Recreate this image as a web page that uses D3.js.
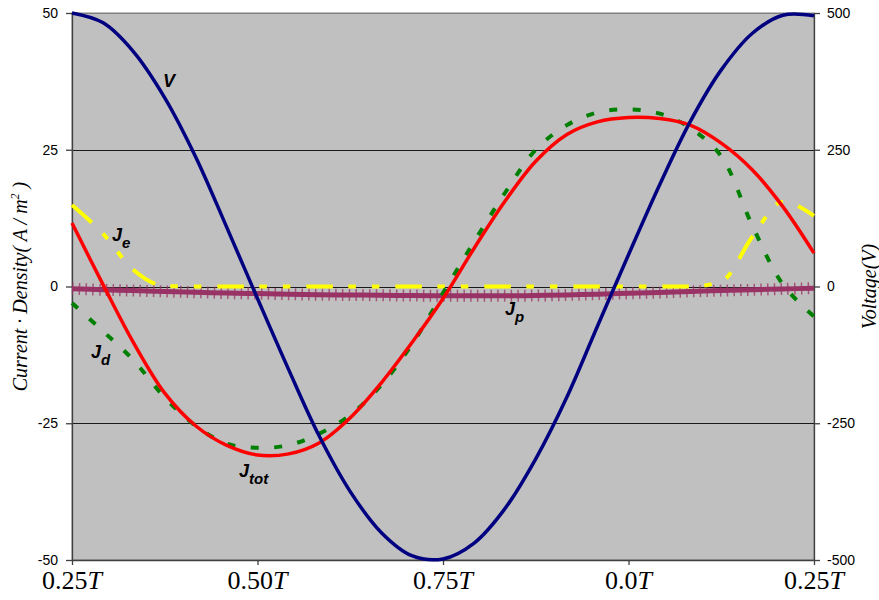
<!DOCTYPE html>
<html>
<head>
<meta charset="utf-8">
<script src="https://cdn.jsdelivr.net/npm/d3@7"></script>
<style>
    body { margin: 0; background: #ffffff; }
    .tickLabel { font-family: "Liberation Sans", Arial, sans-serif; font-size: 14px; fill: #000; }
    .axisTitle { font-family: "Liberation Serif", "Times New Roman", serif; font-style: italic; font-size: 20px; fill: #000; }
    .phaseLabel { font-family: "Liberation Serif", "Times New Roman", serif; font-size: 26px; fill: #000; }
    .seriesLabel { font-family: "Liberation Sans", Arial, sans-serif; font-style: italic; font-weight: bold; font-size: 18px; fill: #000; }
</style>
</head>
<body>
<svg id="chart" width="879" height="600"></svg>
<script>
// phase along the cycle (in units of T, 0.25T .. 1.25T)
const phase = [0.25, 0.292, 0.333, 0.375, 0.417, 0.458, 0.5, 0.542, 0.583, 0.625, 0.667, 0.708,
    0.75, 0.792, 0.833, 0.875, 0.917, 0.958, 1.0, 1.042, 1.083, 1.125, 1.167, 1.208, 1.25];

// applied voltage (V), right axis
const voltage = [500, 482, 429, 345, 236, 110, -22, -152, -273, -375, -450, -492,
    -498, -469, -407, -315, -202, -73, 58, 186, 301, 396, 463, 496, 495];

// current densities (A/m2), left axis
const jTot = [11.6, 0.3, -10.3, -19.5, -25.5, -29.0, -30.8, -30.6, -28.6, -24.0, -17.6, -10.3,
    -2.2, 7.0, 15.5, 22.9, 27.8, 30.1, 30.9, 30.7, 29.5, 26.2, 21.3, 14.6, 6.1];
const jD = [-3.0, -8.2, -13.5, -20.3, -25.5, -28.7, -29.5, -29.0, -26.9, -23.5, -18.0, -10.6,
    -1.2, 8.2, 17.0, 25.0, 29.5, 31.8, 32.4, 31.6, 29.0, 23.8, 11.1, 0.4, -5.5];
const jE = [14.9, 9.6, 3.0, 0.1, 0, 0, 0, 0, 0, 0, 0, 0,
    0, 0, 0, 0, 0, 0, 0, 0, 0, 0.9, 9.1, 15.5, 12.9];
const jP = [-0.4, -0.6, -0.75, -0.9, -1.05, -1.2, -1.3, -1.4, -1.5, -1.55, -1.6, -1.65,
    -1.7, -1.7, -1.7, -1.65, -1.55, -1.4, -1.25, -1.1, -0.9, -0.75, -0.6, -0.45, -0.3];

const leftTicks = [-50, -25, 0, 25, 50];
const rightTicks = [-500, -250, 0, 250, 500];
const phaseTicks = [0.25, 0.5, 0.75, 1.0, 1.25];
const phaseTickLabels = ["0.25", "0.50", "0.75", "0.0", "0.25"];

// series name, subscript, anchor point in (phase, current density)
const seriesNames = ["V", "J", "J", "J", "J"];
const seriesSubs = ["", "e", "d", "p", "tot"];
const labelPhase = [0.3726, 0.3039, 0.2756, 0.8336, 0.4751];
const labelValue = [36.5, 8.3, -13.1, -5.2, -34.8];

const plot = { left: 72, right: 814, top: 13, bottom: 560 };

const svg = d3.select("#chart");

const x = d3.scaleLinear().domain([0.25, 1.25]).range([plot.left, plot.right]);
const yLeft = d3.scaleLinear().domain([-50, 50]).range([plot.bottom, plot.top]);
const yRight = d3.scaleLinear().domain([-500, 500]).range([plot.bottom, plot.top]);

drawBackground();
drawAxes();
drawSeries();
drawLabels();

function drawBackground() {
    svg.append("rect")
        .attr("x", plot.left)
        .attr("y", plot.top)
        .attr("width", plot.right - plot.left)
        .attr("height", plot.bottom - plot.top)
        .attr("fill", "#c0c0c0")
        .attr("stroke", "#808080");

    //horizontal gridlines on the major ticks
    svg.append("g")
        .selectAll("line")
        .data(leftTicks)
        .join("line")
        .attr("x1", plot.left)
        .attr("x2", plot.right)
        .attr("y1", d => Math.round(yLeft(d)) + 0.5)
        .attr("y2", d => Math.round(yLeft(d)) + 0.5)
        .attr("stroke", d => (d == 50 ? "#808080" : "#1a1a1a"))
        .attr("stroke-width", 1);
}

function styleAxis(g) {
    g.select(".domain").attr("stroke", "#404040").attr("stroke-width", 1.3);
    g.selectAll(".tick line").attr("stroke", "#404040").attr("stroke-width", 1.3);
    g.selectAll(".tick text").attr("class", "tickLabel");
}

function drawAxes() {
    svg.append("g")
        .attr("transform", `translate(${plot.left},0)`)
        .call(d3.axisLeft(yLeft).tickValues(leftTicks).tickSize(6).tickSizeOuter(0)
            .tickPadding(8).tickFormat(d => String(d)))
        .call(styleAxis);

    svg.append("g")
        .attr("transform", `translate(${plot.right},0)`)
        .call(d3.axisRight(yRight).tickValues(rightTicks).tickSize(6).tickSizeOuter(0)
            .tickPadding(7).tickFormat(d => String(d)))
        .call(styleAxis);

    svg.append("g")
        .attr("transform", `translate(0,${plot.bottom})`)
        .call(d3.axisBottom(x).tickValues(phaseTicks).tickSize(5).tickSizeOuter(0).tickFormat(""))
        .call(styleAxis);

    //phase labels with an italic T
    const labels = svg.append("g")
        .selectAll("text")
        .data(phaseTicks)
        .join("text")
        .attr("class", "phaseLabel")
        .attr("x", d => x(d))
        .attr("y", plot.bottom + 29)
        .attr("text-anchor", "middle");
    labels.append("tspan").text((d, i) => phaseTickLabels[i]);
    labels.append("tspan").attr("font-style", "italic").text("T");

    //left title
    const leftTitle = svg.append("text")
        .attr("class", "axisTitle")
        .attr("text-anchor", "middle")
        .attr("transform", `translate(27,${(plot.top + plot.bottom) / 2}) rotate(-90)`);
    leftTitle.append("tspan").text("Current \u00b7 Density( A / m");
    leftTitle.append("tspan").attr("font-size", "12px").attr("dy", -8).text("2");
    leftTitle.append("tspan").attr("dy", 8).text(" )");

    svg.append("text")
        .attr("class", "axisTitle")
        .attr("text-anchor", "middle")
        .attr("transform", `translate(876,${(plot.top + plot.bottom) / 2}) rotate(-90)`)
        .text("Voltage(V)");
}

function makePath(values, yScale, curve) {
    return d3.line()
        .x((d, i) => x(phase[i]))
        .y(d => yScale(d))
        .curve(curve)(values);
}

function drawSeries() {
    const g = svg.append("g").attr("fill", "none");

    //J_p: thick line plus the vertical arms of the "+" markers
    const jpPath = makePath(jP, yLeft, d3.curveCatmullRom);
    g.append("path")
        .attr("d", jpPath)
        .attr("stroke", "#993366")
        .attr("stroke-width", 5);
    g.append("path")
        .attr("d", jpPath)
        .attr("stroke", "#993366")
        .attr("stroke-opacity", 0.75)
        .attr("stroke-width", 12)
        .attr("stroke-dasharray", "1.5 5.25");

    g.append("path")
        .attr("d", makePath(jE, yLeft, d3.curveMonotoneX))
        .attr("stroke", "#ffff00")
        .attr("stroke-width", 4)
        .attr("stroke-dasharray", "26.5 15.5 7.5 16 7.5 16");

    g.append("path")
        .attr("d", makePath(jD, yLeft, d3.curveCatmullRom))
        .attr("stroke", "#008000")
        .attr("stroke-width", 4)
        .attr("stroke-dasharray", "8 15.5");

    g.append("path")
        .attr("d", makePath(jTot, yLeft, d3.curveCatmullRom))
        .attr("stroke", "#ff0000")
        .attr("stroke-width", 3.5);

    g.append("path")
        .attr("d", makePath(voltage, yRight, d3.curveCatmullRom))
        .attr("stroke", "#000080")
        .attr("stroke-width", 3.5);
}

function drawLabels() {
    const labels = svg.append("g")
        .selectAll("text")
        .data(seriesNames)
        .join("text")
        .attr("class", "seriesLabel")
        .attr("x", (d, i) => x(labelPhase[i]))
        .attr("y", (d, i) => yLeft(labelValue[i]));
    labels.append("tspan").text(d => d);
    labels.append("tspan")
        .attr("font-size", "15px")
        .attr("dy", 7)
        .text((d, i) => seriesSubs[i]);
}
</script>
</body>
</html>
